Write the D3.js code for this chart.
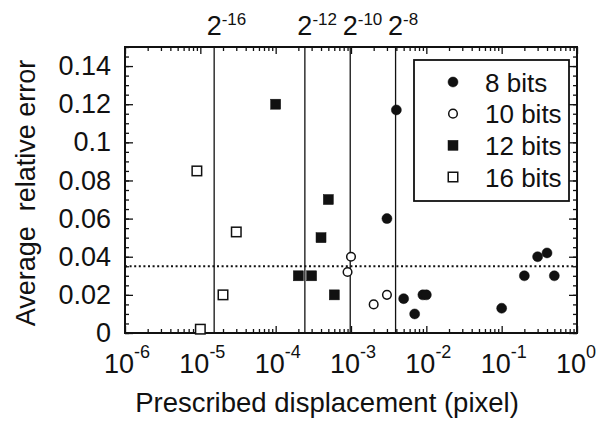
<!DOCTYPE html>
<html>
<head>
<meta charset="utf-8">
<script src="https://cdn.jsdelivr.net/npm/d3@7"></script>
<style>
body { margin: 0; background: #fff; }
svg { display: block; font-family: "Liberation Sans", Arial, Helvetica, sans-serif; }
</style>
</head>
<body>
<svg width="600" height="425"></svg>
<script>
// data
var bits8X = [3e-3, 4e-3, 5e-3, 7e-3, 9e-3, 1e-2, 0.1, 0.2, 0.3, 0.4, 0.5];
var bits8Y = [0.060, 0.117, 0.018, 0.010, 0.020, 0.020, 0.013, 0.030, 0.040, 0.042, 0.030];
var bits10X = [9e-4, 1e-3, 2e-3, 3e-3];
var bits10Y = [0.032, 0.040, 0.015, 0.020];
var bits12X = [1e-4, 2e-4, 3e-4, 4e-4, 5e-4, 6e-4];
var bits12Y = [0.120, 0.030, 0.030, 0.050, 0.070, 0.020];
var bits16X = [9e-6, 1e-5, 2e-5, 3e-5];
var bits16Y = [0.085, 0.002, 0.020, 0.053];

var seriesNames = ['8 bits', '10 bits', '12 bits', '16 bits'];
var refPowers = [-16, -12, -10, -8];
var threshold = 0.035;
var xDecades = [-6, -5, -4, -3, -2, -1, 0];

var series = [
    {name: seriesNames[0], xs: bits8X, ys: bits8Y, shape: 'circle', filled: true},
    {name: seriesNames[1], xs: bits10X, ys: bits10Y, shape: 'circle', filled: false},
    {name: seriesNames[2], xs: bits12X, ys: bits12Y, shape: 'square', filled: true},
    {name: seriesNames[3], xs: bits16X, ys: bits16Y, shape: 'square', filled: false}
];

var svg = d3.select('svg');
var margin = {t: 47, r: 23, b: 92, l: 125};
var width = 600 - margin.l - margin.r;
var height = 425 - margin.t - margin.b;
var fontSize = 27;

var g = svg.append('g')
    .attr('transform', 'translate(' + margin.l + ',' + margin.t + ')');

var x = d3.scaleLog().domain([1e-6, 1]).range([0, width]);
var y = d3.scaleLinear().domain([0, 0.15]).range([height, 0]);

var xMajor = xDecades.map(function(p) { return Math.pow(10, p); });
var xMinor = x.ticks().filter(function(v) {
    var l = Math.log10(v);
    return Math.abs(l - Math.round(l)) > 1e-6;
});
var yMajor = y.ticks(7);
var yMinor = d3.range(0, 31).map(function(i) { return i * 0.005; });

function styleAxis(sel) {
    sel.select('.domain').remove();
    sel.selectAll('.tick line').attr('stroke', '#111').attr('stroke-width', 1.3);
}

// ticks, all pointing inward
g.append('g').attr('transform', 'translate(0,' + height + ')')
    .call(d3.axisBottom(x).tickValues(xMinor).tickSize(-4).tickFormat(''))
    .call(styleAxis);
g.append('g').attr('transform', 'translate(0,' + height + ')')
    .call(d3.axisBottom(x).tickValues(xMajor).tickSize(-7).tickFormat(''))
    .call(styleAxis);
g.append('g')
    .call(d3.axisTop(x).tickValues(xMinor).tickSize(-4).tickFormat(''))
    .call(styleAxis);
g.append('g')
    .call(d3.axisTop(x).tickValues(xMajor).tickSize(-7).tickFormat(''))
    .call(styleAxis);
g.append('g')
    .call(d3.axisLeft(y).tickValues(yMinor).tickSize(-4).tickFormat(''))
    .call(styleAxis);
g.append('g')
    .call(d3.axisLeft(y).tickValues(yMajor).tickSize(-8).tickPadding(14).tickFormat(d3.format('~g')))
    .call(styleAxis)
    .selectAll('text')
    .attr('font-size', fontSize)
    .attr('font-family', null)
    .attr('fill', '#111');
g.append('g').attr('transform', 'translate(' + width + ',0)')
    .call(d3.axisRight(y).tickValues(yMinor).tickSize(-4).tickFormat(''))
    .call(styleAxis);
g.append('g').attr('transform', 'translate(' + width + ',0)')
    .call(d3.axisRight(y).tickValues(yMajor).tickSize(-8).tickFormat(''))
    .call(styleAxis);

// x tick labels: 10 with superscript exponent
var xLab = g.append('g').selectAll('text')
    .data(xDecades)
    .enter().append('text')
    .attr('x', function(p) { return x(Math.pow(10, p)) - 21; })
    .attr('y', height + 40)
    .attr('font-size', fontSize)
    .attr('fill', '#111');
xLab.append('tspan').text('10');
xLab.append('tspan')
    .attr('font-size', 18)
    .attr('dy', -15)
    .text(function(p) { return String(p); });

// reference lines at 2^-n
g.append('g').selectAll('line')
    .data(refPowers)
    .enter().append('line')
    .attr('x1', function(p) { return x(Math.pow(2, p)); })
    .attr('x2', function(p) { return x(Math.pow(2, p)); })
    .attr('y1', 0)
    .attr('y2', height)
    .attr('stroke', '#111')
    .attr('stroke-width', 1.3);

var refLab = g.append('g').selectAll('text')
    .data(refPowers)
    .enter().append('text')
    .attr('x', function(p) { return x(Math.pow(2, p)) - 7.5; })
    .attr('y', -12)
    .attr('font-size', fontSize)
    .attr('fill', '#111');
refLab.append('tspan').text('2');
refLab.append('tspan')
    .attr('font-size', 17)
    .attr('dy', -10)
    .text(function(p) { return String(p); });

// dotted threshold
g.append('line')
    .attr('x1', 0)
    .attr('x2', width)
    .attr('y1', y(threshold))
    .attr('y2', y(threshold))
    .attr('stroke', '#111')
    .attr('stroke-width', 2)
    .attr('stroke-dasharray', '2,2.6');

// frame
g.append('rect')
    .attr('width', width)
    .attr('height', height)
    .attr('fill', 'none')
    .attr('stroke', '#111')
    .attr('stroke-width', 2);

function drawMarker(sel, s) {
    if (s.shape === 'circle') {
        sel.append('circle')
            .attr('r', s.filled ? 5 : 4.3)
            .attr('fill', s.filled ? '#111' : '#fff')
            .attr('stroke', '#111')
            .attr('stroke-width', s.filled ? 0.5 : 1.5);
    } else {
        var a = s.filled ? 10 : 9.5;
        sel.append('rect')
            .attr('x', -a / 2)
            .attr('y', -a / 2)
            .attr('width', a)
            .attr('height', a)
            .attr('fill', s.filled ? '#111' : '#fff')
            .attr('stroke', '#111')
            .attr('stroke-width', s.filled ? 0.5 : 1.5);
    }
}

// points
series.forEach(function(s) {
    var pts = s.xs.map(function(v, i) { return [v, s.ys[i]]; });
    g.append('g').selectAll('g')
        .data(pts)
        .enter().append('g')
        .attr('transform', function(d) { return 'translate(' + x(d[0]) + ',' + y(d[1]) + ')'; })
        .each(function() { drawMarker(d3.select(this), s); });
});

// legend
var legend = svg.append('g');
legend.append('rect')
    .attr('x', 414)
    .attr('y', 60)
    .attr('width', 155)
    .attr('height', 141)
    .attr('fill', '#fff')
    .attr('stroke', '#111')
    .attr('stroke-width', 1.8);
var rowY = d3.scalePoint().domain(seriesNames).range([82, 177]);
series.forEach(function(s) {
    var row = legend.append('g')
        .attr('transform', 'translate(453,' + rowY(s.name) + ')');
    drawMarker(row, s);
    row.append('text')
        .attr('x', 32)
        .attr('y', 9.5)
        .attr('font-size', 26)
        .attr('fill', '#111')
        .text(s.name);
});

// axis titles
svg.append('text')
    .attr('x', 327)
    .attr('y', 412)
    .attr('text-anchor', 'middle')
    .attr('font-size', 27.5)
    .attr('fill', '#111')
    .text('Prescribed displacement (pixel)');
svg.append('text')
    .attr('transform', 'translate(35,193) rotate(-90)')
    .attr('text-anchor', 'middle')
    .attr('font-size', fontSize)
    .attr('fill', '#111')
    .style('white-space', 'pre')
    .text('Average  relative error');
</script>
</body>
</html>
